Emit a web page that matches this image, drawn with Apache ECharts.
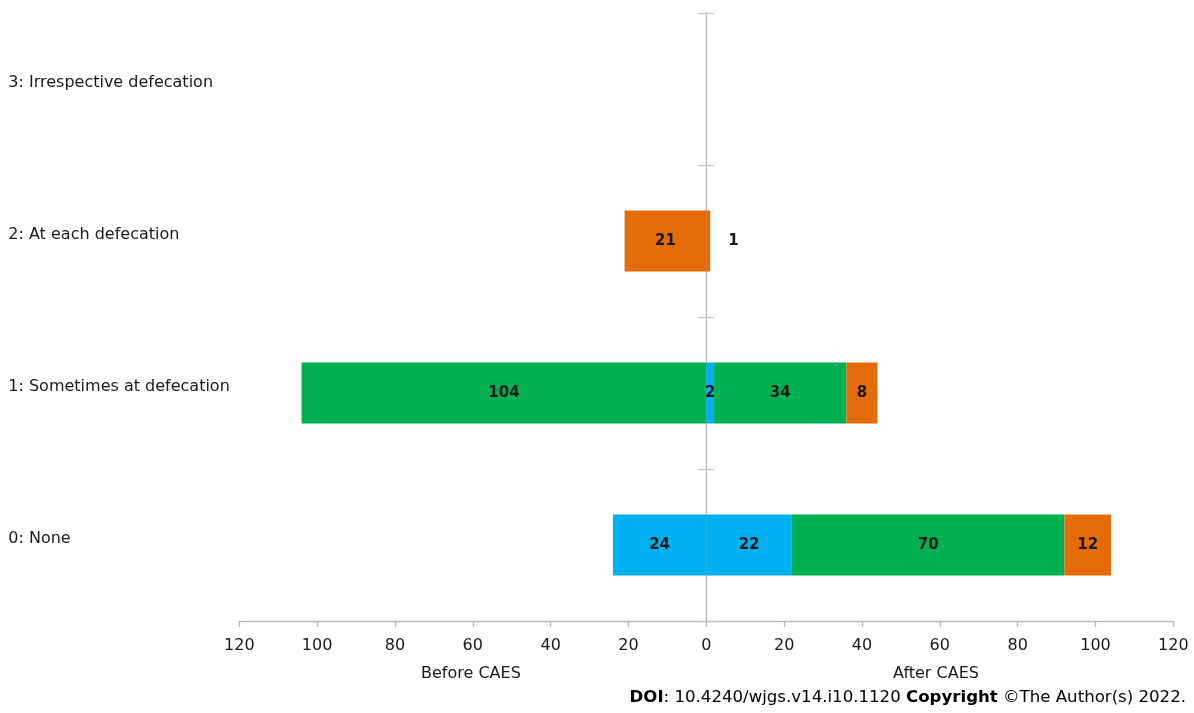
<!DOCTYPE html>
<html>
<head>
<meta charset="utf-8">
<script src="https://cdn.jsdelivr.net/npm/echarts@6/dist/echarts.min.js"></script>
<style>
html,body{margin:0;padding:0;background:#fff;}
#main{width:1194px;height:713px;}
</style>
</head>
<body>
<div id="main"></div>
<script>
var categories = ['0: None', '1: Sometimes at defecation', '2: At each defecation', '3: Irrespective defecation'];
var beforeBlue = [24, 0, 0, 0];
var beforeGreen = [0, 104, 0, 0];
var beforeOrange = [0, 0, 21, 0];
var afterBlue = [22, 2, 0, 0];
var afterGreen = [70, 34, 0, 0];
var afterOrange = [12, 8, 1, 0];
var xTicks = [-120, -100, -80, -60, -40, -20, 0, 20, 40, 60, 80, 100, 120];

var BLUE = '#00B0F0', GREEN = '#00B050', ORANGE = '#E46C0A';
var FONT = 'DejaVu Sans';
var AXIS = '#b8b8b8';

function mk(name, arr, sign, color) {
  return {
    name: name,
    type: 'bar',
    stack: 'total',
    xAxisIndex: 0,
    yAxisIndex: 0,
    barWidth: 61,
    itemStyle: { color: color },
    data: arr.map(function (v) {
      var item = { value: v === 0 ? null : sign * v };
      if (v === 1) {
        item.label = { position: 'right', distance: 18 };
      }
      return item;
    }),
    label: {
      show: true,
      position: 'inside',
      fontFamily: FONT,
      fontWeight: 'bold',
      fontSize: 15,
      color: '#1a1a1a',
      formatter: function (p) { return Math.abs(p.value); }
    }
  };
}

var xCommon = {
  type: 'value',
  min: xTicks[0],
  max: xTicks[xTicks.length - 1],
  interval: 20,
  splitLine: { show: false }
};

var chart = echarts.init(document.getElementById('main'), null, { renderer: 'canvas' });
chart.setOption({
  animation: false,
  grid: { left: 239.3, right: 20.7, top: 13, bottom: 92, containLabel: false },
  xAxis: [
    Object.assign({}, xCommon, {
      axisLine: { show: true, lineStyle: { color: AXIS, width: 1.3 } },
      axisTick: { show: true, inside: false, length: 6, lineStyle: { color: AXIS, width: 1.3 } },
      axisLabel: {
        fontFamily: FONT, fontSize: 16, color: '#1a1a1a', margin: 17,
        formatter: function (v) { return Math.abs(v); }
      }
    }),
    Object.assign({}, xCommon, {
      show: false,
      axisLine: { show: false },
      axisTick: { show: false },
      axisLabel: { show: false }
    })
  ],
  yAxis: [
    {
      type: 'category',
      data: categories,
      position: 'left',
      axisLine: { show: true, onZero: true, onZeroAxisIndex: 0, lineStyle: { color: AXIS, width: 1.3 } },
      axisTick: { show: true, length: 8, lineStyle: { color: '#c8c8c8', width: 1.3 } },
      axisLabel: { show: false },
      splitLine: { show: false }
    },
    {
      type: 'category',
      data: categories,
      position: 'left',
      axisLine: { show: false, onZero: false },
      axisTick: { show: false },
      axisLabel: {
        show: true, align: 'left', margin: 231,
        fontFamily: FONT, fontSize: 16, color: '#1a1a1a',
        verticalAlign: 'bottom', lineHeight: 12
      },
      splitLine: { show: false }
    },
    {
      type: 'category',
      data: categories,
      position: 'left',
      axisLine: { show: false, onZero: true, onZeroAxisIndex: 1 },
      axisTick: { show: true, inside: true, length: 8, lineStyle: { color: '#c8c8c8', width: 1.3 } },
      axisLabel: { show: false },
      splitLine: { show: false }
    }
  ],
  series: [
    mk('Before blue', beforeBlue, -1, BLUE),
    mk('Before green', beforeGreen, -1, GREEN),
    mk('Before orange', beforeOrange, -1, ORANGE),
    mk('After blue', afterBlue, 1, BLUE),
    mk('After green', afterGreen, 1, GREEN),
    mk('After orange', afterOrange, 1, ORANGE)
  ],
  graphic: [
    { type: 'text', left: 473 - 52, top: 666, style: { text: 'Before CAES', fontFamily: FONT, fontSize: 16, fill: '#1a1a1a' } },
    { type: 'text', left: 940 - 47, top: 666, style: { text: 'After CAES', fontFamily: FONT, fontSize: 16, fill: '#1a1a1a' } },
    {
      type: 'text', right: 8, top: 689,
      style: {
        text: '{b|DOI}: 10.4240/wjgs.v14.i10.1120 {b|Copyright} ©The Author(s) 2022.',
        fontFamily: FONT, fontSize: 16.6, fill: '#000',
        rich: { b: { fontFamily: FONT, fontSize: 16.6, fontWeight: 'bold', fill: '#000' } }
      }
    }
  ]
});
</script>
</body>
</html>
